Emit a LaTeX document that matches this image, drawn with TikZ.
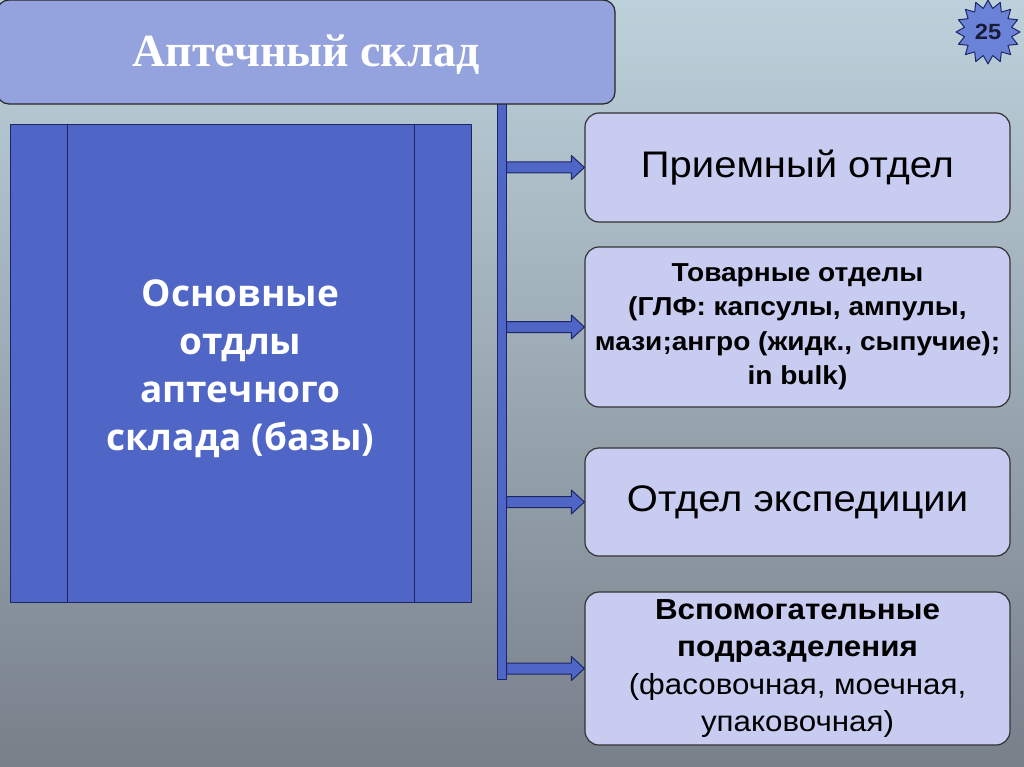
\documentclass[tikz,border=0pt]{standalone}
\usepackage{fontspec}
\setmainfont{Liberation Serif}
\setsansfont[FakeStretch=1.08]{Liberation Sans}
\newfontfamily\opensans{Open Sans}
\usepackage{tikz}
\usetikzlibrary{calc}
\usetikzlibrary{positioning}
\usetikzlibrary{shapes.symbols}
\definecolor{bgtop}{rgb}{0.74,0.82,0.86}
\definecolor{bgmid}{rgb}{0.88,0.91,0.93}
\definecolor{bgbot}{rgb}{0.47,0.50,0.54}
\definecolor{ttlfill}{rgb}{0.58,0.64,0.87}
\definecolor{mainfill}{rgb}{0.31,0.40,0.78}
\definecolor{navyline}{rgb}{0.11,0.15,0.40}
\definecolor{boxfill}{rgb}{0.78,0.80,0.94}
\definecolor{badgefill}{rgb}{0.42,0.51,0.85}
\definecolor{darktext}{rgb}{0.10,0.11,0.22}
\tikzset{
  titlebox/.style={draw=black!85,line width=1.2pt,fill=ttlfill,rounded corners=12pt,
    minimum width=618pt,minimum height=104pt,text=white,text height=36pt,text depth=6pt,
    font=\rmfamily\bfseries\fontsize{46}{52}\selectfont},
  mainbox/.style={draw=navyline,line width=1pt,fill=mainfill,minimum width=461pt,
    minimum height=477pt},
  maintext/.style={text=white,align=center,font=\opensans\bfseries\fontsize{37}{48}\selectfont},
  deptbox/.style={draw=black!80,line width=1.2pt,fill=boxfill,rounded corners=14pt,
    minimum width=425pt,align=center,text=black,inner sep=2pt},
  blockarrow/.style={draw=navyline,line width=1pt,fill=mainfill},
  badge/.style={starburst,starburst points=16,starburst point height=8pt,random starburst=0,
    draw=navyline,line width=1pt,fill=badgefill,minimum size=64pt,inner sep=0pt,
    text=darktext,font=\sffamily\bfseries\fontsize{22}{24}\selectfont}
}

\begin{document}
\begin{tikzpicture}[x=1pt,y=-1pt,line join=round,line cap=round]
    \shade[top color=bgtop,middle color=bgmid,bottom color=bgbot] (0,0) rectangle (1024,767);
    \useasboundingbox (0,0) rectangle (1024,767);
    % main column
    \node[mainbox] (main) at (240.5,363.5) {};
    \draw[navyline,line width=1pt] ($(main.north west)+(58,0)$) -- ($(main.south west)+(58,0)$);
    \draw[navyline,line width=1pt] ($(main.north east)+(-57,0)$) -- ($(main.south east)+(-57,0)$);
    \node[maintext] (maintxt) at ($(main.center)+(0,5)$) {Основные\\отдлы\\аптечного\\склада (базы)};
    % spine
    \node[draw=navyline,line width=1pt,fill=mainfill,minimum width=9pt,minimum height=575pt,inner sep=0pt] (bar) at (501.5,391.5) {};
    \node[titlebox] (title) at (306,52) {Аптечный склад};
    % departments
    \node[deptbox,minimum height=109pt,font=\sffamily\fontsize{37}{40}\selectfont] (recv) at (797.5,167.5) {Приемный отдел};
    \node[deptbox,minimum height=160pt,font=\sffamily\bfseries\fontsize{26}{34.5}\selectfont] (goods) at (797.5,327) {Товарные отделы\\(ГЛФ: капсулы, ампулы,\\мази;ангро (жидк., сыпучие);\\in bulk)};
    \node[deptbox,minimum height=108pt,font=\sffamily\fontsize{37}{40}\selectfont] (exped) at (797.5,502) {Отдел экспедиции};
    \node[deptbox,minimum height=153pt,font=\sffamily\fontsize{29}{37.5}\selectfont] (aux) at (797.5,668.5) {\textbf{Вспомогательные}\\\textbf{подразделения}\\(фасовочная, моечная,\\упаковочная)};
    % arrows
    \foreach \b in {recv,goods,exped,aux}
        \draw[blockarrow] ($(bar.east |- \b.west)+(0,-5.5)$) -- ($(\b.west)+(-13,-5.5)$) -- ($(\b.west)+(-13,-12)$) -- (\b.west)
            -- ($(\b.west)+(-13,12)$) -- ($(\b.west)+(-13,5.5)$) -- ($(bar.east |- \b.west)+(0,5.5)$) -- cycle;
    \node[badge] (num) at (988,32) {25};
\end{tikzpicture}
\end{document}
